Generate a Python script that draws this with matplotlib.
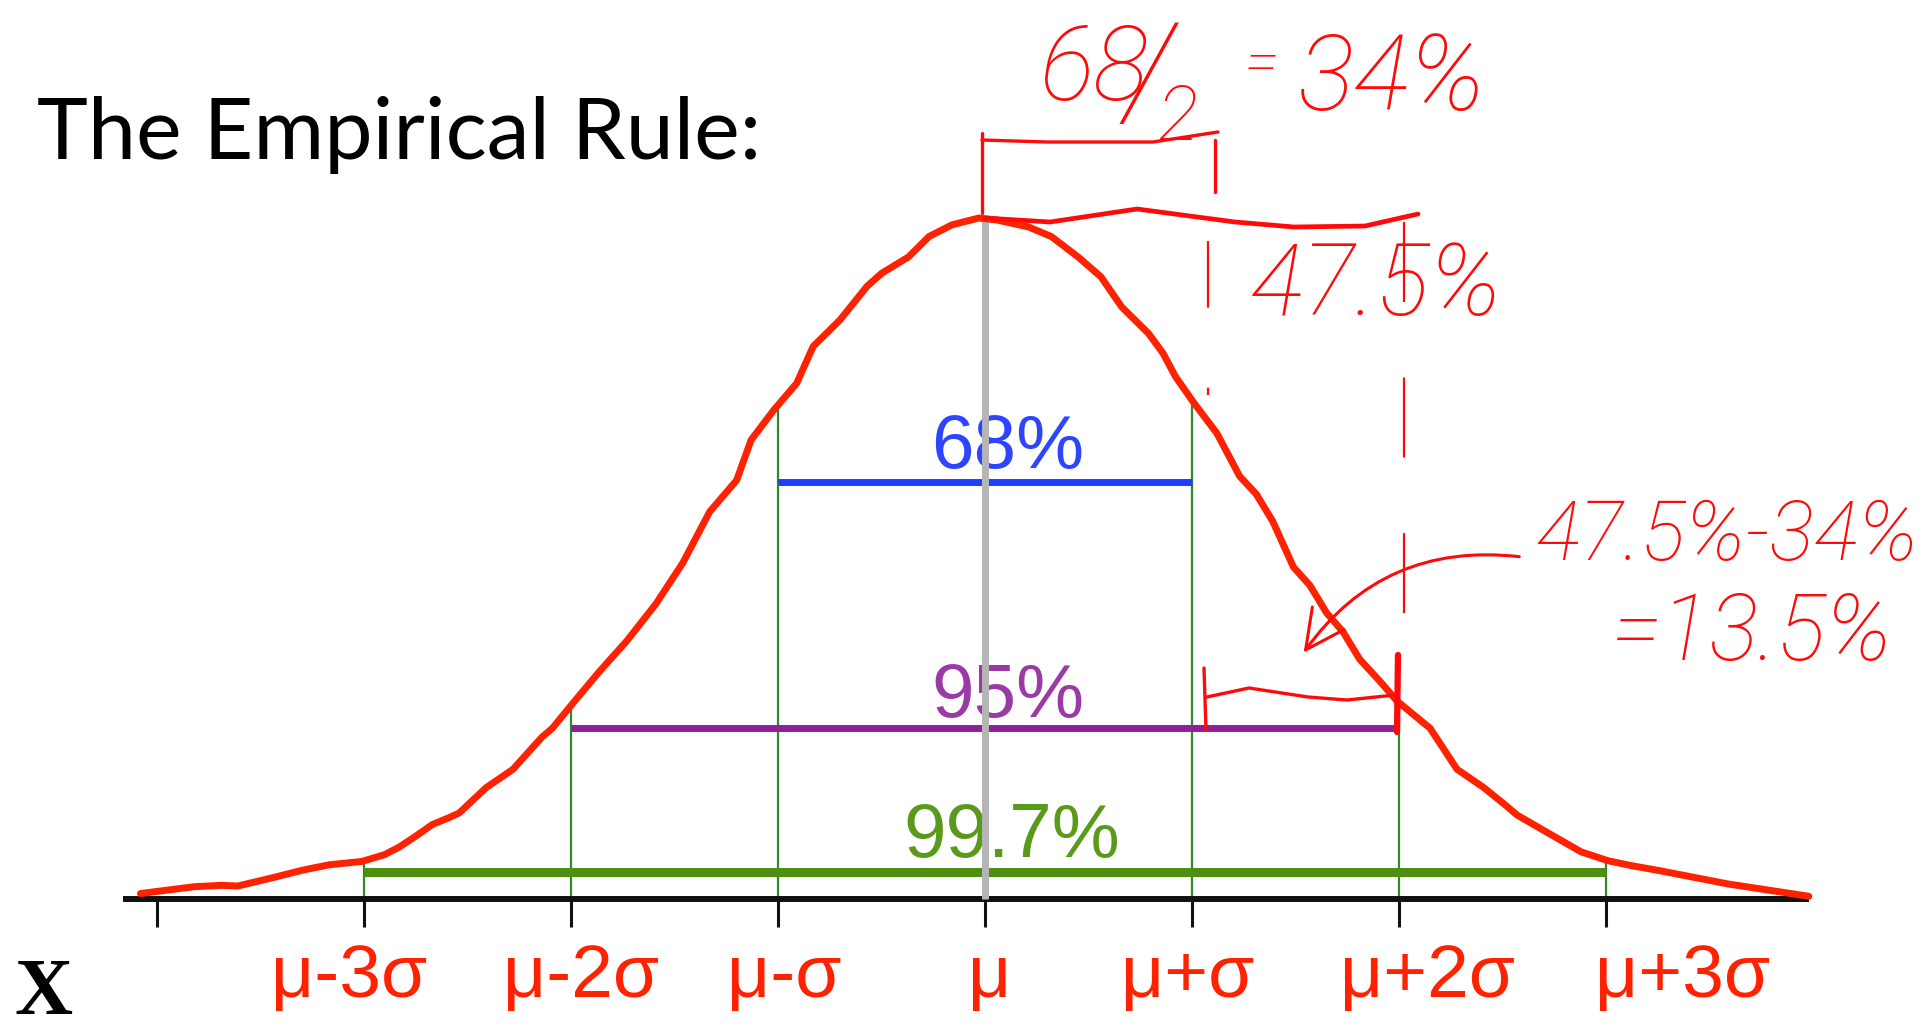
import matplotlib
matplotlib.use("Agg")
import matplotlib.pyplot as plt
import numpy as np
from matplotlib.patches import FancyArrowPatch

# ---------------- data ----------------
# x in units of sigma from the mean, y relative to the peak height
curve_x = [-4.08, -3.82, -3.69, -3.61, -3.43, -3.30, -3.17, -3.01, -2.90, -2.83,
           -2.75, -2.67, -2.59, -2.54, -2.41, -2.28, -2.20, -2.14, -2.09, -1.99,
           -1.86, -1.73, -1.59, -1.46, -1.33, -1.20, -1.13, -1.02, -0.91, -0.83,
           -0.70, -0.57, -0.50, -0.37, -0.27, -0.16, -0.03, 0.06, 0.21, 0.32,
           0.45, 0.56, 0.66, 0.79, 0.86, 0.92, 1.01, 1.12, 1.23, 1.31,
           1.39, 1.49, 1.57, 1.65, 1.73, 1.81, 1.91, 1.99, 2.07, 2.15,
           2.28, 2.41, 2.52, 2.57, 2.73, 2.88, 3.01, 3.12, 3.25, 3.59,
           3.98]
curve_y = [0.008, 0.018, 0.020, 0.019, 0.032, 0.042, 0.050, 0.055, 0.065, 0.076,
           0.092, 0.109, 0.119, 0.126, 0.163, 0.190, 0.217, 0.237, 0.250, 0.287,
           0.334, 0.378, 0.432, 0.492, 0.567, 0.613, 0.672, 0.716, 0.755, 0.809,
           0.848, 0.897, 0.916, 0.940, 0.970, 0.987, 0.997, 0.994, 0.984, 0.970,
           0.940, 0.911, 0.867, 0.828, 0.799, 0.765, 0.726, 0.682, 0.619, 0.593,
           0.553, 0.486, 0.459, 0.419, 0.391, 0.351, 0.318, 0.290, 0.270, 0.250,
           0.190, 0.163, 0.136, 0.123, 0.095, 0.069, 0.056, 0.049, 0.042, 0.022,
           0.004]

tick_positions = [-4, -3, -2, -1, 0, 1, 2, 3]
tick_labels = ["μ-3σ", "μ-2σ", "μ-σ", "μ", "μ+σ", "μ+2σ", "μ+3σ"]
tick_label_x = [-3.07, -1.95, -0.97, 0.02, 0.98, 2.14, 3.37]

band_labels = ["68%", "95%", "99.7%"]
band_halfwidth = [1, 2, 3]
band_height = [0.610, 0.250, 0.039]
band_label_x = [0.11, 0.11, 0.13]
band_label_y = [0.631, 0.267, 0.062]
band_colors = ["#1f3cff", "#8e1f96", "#4f8f0f"]
band_text_colors = ["#2d45ff", "#9a3aa4", "#5a9a1a"]
band_lw = [5.0, 5.0, 6.5]

# ---------------- figure / axes ----------------
W, H = 1923, 1030
fig = plt.figure(figsize=(W / 100, H / 100), dpi=100)
fig.patch.set_facecolor("white")
ax = fig.add_axes([0, 0, 1, 1])
ax.set_axis_off()
# pixel-aligned data frame: 1 sigma = 207 px, mean at x=985 px, axis at y=899 px, peak height 683 px
X0, SX, Y0, SY = 985.0, 207.0, 899.0, 683.0
ax.set_xlim((0 - X0) / SX, (W - X0) / SX)
ax.set_ylim((Y0 - H) / SY, (Y0 - 0) / SY)


def px(x):
    return (x - X0) / SX


def py(y):
    return (Y0 - y) / SY


RED = "#ff2200"
HAND = "#ff0a0a"

# baseline axis and ticks
ax.plot([px(123), px(1809)], [0, 0], color="#111111", lw=4.3, solid_capstyle="butt", zorder=3)
ax.vlines(tick_positions, py(927), 0, color="#111111", lw=2.2, zorder=3)

# green vertical guides at +-1,2,3 sigma, up to the curve
for s in [-3, -2, -1, 1, 2, 3]:
    top = np.interp(s, curve_x, curve_y)
    ax.vlines(s, 0, top, color="#2f8a2f", lw=1.6, zorder=2)

# band lines and labels
for lab, hw, hgt, lx, ly, c, tc, lw in zip(band_labels, band_halfwidth, band_height,
                                          band_label_x, band_label_y, band_colors,
                                          band_text_colors, band_lw):
    ax.plot([-hw, hw], [hgt, hgt], color=c, lw=lw, solid_capstyle="butt", zorder=4)
    ax.text(lx, ly, lab, color=tc, fontsize=55, family="Liberation Sans",
            ha="center", va="baseline", zorder=4)

# grey mean line
ax.vlines(0, 0, 1.0, color="#b5b5b5", lw=5, zorder=5)

# the bell curve
ax.plot(curve_x, curve_y, color=RED, lw=5, solid_joinstyle="round",
        solid_capstyle="round", zorder=6)

# x labels
for lx, lab in zip(tick_label_x, tick_labels):
    ax.text(lx, py(997), lab, color=RED, fontsize=54, family="Liberation Sans",
            ha="center", va="baseline")

# title and X
fig.text(37 / W, 1 - 159 / H, "The Empirical Rule:", fontsize=62, family="Lato",
         color="black", ha="left", va="baseline")
fig.text(15 / W, 1 - 1014 / H, "X", fontsize=58, family="Liberation Serif",
         fontweight="bold", color="black", ha="left", va="baseline")

# ---------------- handwritten annotations ----------------
hand = dict(color=HAND, family=["Roboto", "DejaVu Sans"], fontweight="light",
            style="italic", va="baseline", ha="left", zorder=8)

ax.text(px(1040), py(100), "68", fontsize=74, **hand)
ax.text(px(1125), py(116), "/", fontsize=95, **hand)
ax.text(px(1158), py(140), "2", fontsize=55, **hand)
ax.text(px(1245), py(82), "=", fontsize=45, **hand)
ax.text(px(1298), py(110), "34%", fontsize=76, **hand)

ax.text(px(1250), py(315), "47.5%", fontsize=72, **hand)
ax.text(px(1535), py(560), "47.5%-34%", fontsize=60, **hand)
ax.text(px(1612), py(660), "=13.5%", fontsize=66, **hand)

hl = dict(color=HAND, lw=2.4, solid_capstyle="round", solid_joinstyle="round", zorder=8)
# bracket mean -> +1 sigma
ax.plot([px(982), px(982)], [py(213), py(133)], **hl)
ax.plot([px(982), px(1047), px(1153), px(1218)], [py(140), py(142), py(142), py(132)], **hl)
ax.plot([px(1215), px(1215)], [py(140), py(192)], **hl)
# bracket mean -> +2 sigma
ax.plot([px(985), px(1050), px(1137), px(1235), px(1294), px(1365), px(1418)],
        [py(218), py(222), py(209), py(222), py(227), py(226), py(214)],
        color=HAND, lw=3.4, solid_capstyle="round", solid_joinstyle="round", zorder=8)
# dashed drop lines
ax.plot([px(1208), px(1208)], [py(241), py(395)], color=HAND, lw=1.6,
        dashes=(30, 36), zorder=8)
ax.plot([px(1404), px(1404)], [py(222), py(655)], color=HAND, lw=1.6,
        dashes=(36, 34), zorder=8)
# small bracket +1 sigma -> +2 sigma
ax.plot([px(1204), px(1206)], [py(668), py(730)], **hl)
ax.plot([px(1207), px(1249), px(1308), px(1347), px(1395)],
        [py(697), py(688), py(697), py(700), py(695)], **hl)
ax.plot([px(1398), px(1397)], [py(655), py(732)], color=HAND, lw=4.5,
        solid_capstyle="round", zorder=8)
# arrow from the text to the bracket
arr = FancyArrowPatch((px(1522), py(557)), (px(1302), py(655)),
                      connectionstyle="arc3,rad=0.3",
                      arrowstyle="->,head_length=1.4,head_width=0.7",
                      mutation_scale=20, color=HAND, lw=2.2, zorder=8)
ax.add_patch(arr)

fig.savefig("out.png", dpi=100, facecolor="white")
